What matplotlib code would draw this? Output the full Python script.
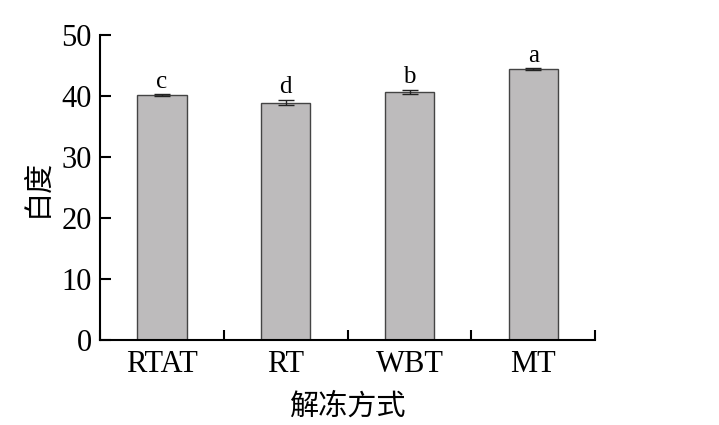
import matplotlib
matplotlib.use("Agg")
import matplotlib.pyplot as plt

# 数据
methods = ["RTAT", "RT", "WBT", "MT"]
whiteness = [40.1, 38.9, 40.6, 44.4]
errors = [0.15, 0.4, 0.35, 0.1]
letters = ["c", "d", "b", "a"]

plt.rcParams['font.family'] = ['Liberation Serif', 'Noto Sans CJK SC']

fig = plt.figure(figsize=(7.19, 4.25), dpi=100)
ax = fig.add_axes([0.139, 0.2, 0.689, 0.718])

x = range(len(methods))
ax.bar(x, whiteness, width=0.4, color="#bdbbbc", edgecolor="#444444", linewidth=1.0,
       yerr=errors, capsize=6, error_kw={"elinewidth": 1.0, "capthick": 1.0, "ecolor": "#222222"})

for i, (v, e, l) in enumerate(zip(whiteness, errors, letters)):
    ax.text(i, v + e + 0.3, l, ha="center", va="bottom", fontsize=18)

ax.set_xlim(-0.5, 3.5)
ax.set_ylim(0, 50)
ax.set_yticks([0, 10, 20, 30, 40, 50])
ax.set_xticks(list(x))
ax.set_xticklabels(methods)
ax.set_xticks([-0.5, 0.5, 1.5, 2.5, 3.5], minor=True)
ax.tick_params(axis="x", which="major", length=0, labelsize=22, pad=7)
ax.tick_params(axis="x", which="minor", direction="in", length=7, width=1.5)
ax.tick_params(axis="y", direction="in", length=8, width=1.5, labelsize=22, pad=6)

for s in ["top", "right"]:
    ax.spines[s].set_visible(False)
for s in ["left", "bottom"]:
    ax.spines[s].set_linewidth(1.5)

ax.set_xlabel("解冻方式", fontsize=21, family=['Noto Sans CJK SC'], labelpad=9)
ax.set_ylabel("白度", fontsize=21, family=['Noto Sans CJK SC'], labelpad=6)

fig.savefig("out.png", dpi=100)
